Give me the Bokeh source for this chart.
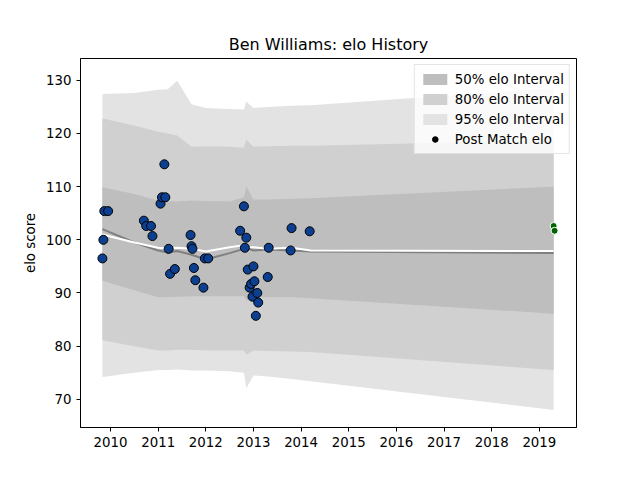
from bokeh.plotting import figure
from bokeh.models import Range1d, FixedTicker, Legend, LegendItem
from bokeh.embed import file_html
from bokeh.resources import INLINE

band_x = [2009.83, 2010.5, 2011.0, 2011.2, 2011.4, 2011.7, 2012.0, 2012.5, 2012.8, 2012.85, 2013.0, 2013.3, 2013.8, 2014.2, 2019.3]
u95 = [127.4, 127.6, 128.2, 128.3, 129.9, 125.5, 124.8, 124.6, 124.5, 126.0, 124.8, 125.0, 125.2, 125.3, 128.5]
u80 = [122.8, 121.5, 120.3, 120.0, 119.6, 117.5, 117.6, 117.5, 117.3, 118.8, 117.5, 117.6, 117.7, 117.7, 118.7]
u50 = [109.9, 108.6, 107.4, 107.3, 107.2, 107.4, 107.3, 107.2, 108.0, 110.0, 107.6, 107.6, 107.7, 107.8, 110.0]
l50 = [92.3, 90.5, 89.2, 89.2, 89.3, 89.4, 89.4, 89.4, 89.4, 88.6, 89.3, 89.2, 89.2, 89.0, 86.1]
l80 = [81.1, 80.0, 79.2, 79.2, 79.3, 79.3, 79.2, 79.2, 79.2, 78.4, 79.2, 79.1, 79.0, 78.9, 75.5]
l95 = [74.2, 75.0, 75.5, 75.5, 75.6, 75.4, 75.4, 75.3, 75.0, 72.1, 74.5, 74.3, 73.8, 73.4, 68.0]
median = [102.0, 99.5, 98.0, 97.6, 97.9, 97.2, 96.3, 97.5, 98.3, 98.5, 98.0, 98.2, 98.0, 97.8, 97.5]
mean = [101.0, 99.5, 98.5, 98.4, 98.5, 98.3, 97.8, 98.6, 99.0, 98.6, 98.6, 98.3, 98.5, 98.0, 97.9]

pt_year = [2009.83, 2009.85, 2009.87, 2009.95, 2010.7, 2010.75, 2010.85, 2010.88, 2011.05, 2011.08, 2011.15, 2011.13,
           2011.22, 2011.25, 2011.35, 2011.68, 2011.7, 2011.72, 2011.75, 2011.78, 2011.95, 2011.98, 2012.05,
           2012.72, 2012.8, 2012.82, 2012.85, 2012.88, 2012.92, 2012.95, 2012.98, 2013.0, 2013.02, 2013.05,
           2013.08, 2013.1, 2013.3, 2013.32, 2013.78, 2013.8, 2014.18]
pt_elo = [96.5, 100.0, 105.4, 105.4, 103.6, 102.6, 102.6, 100.7, 106.8, 108.0, 108.0, 114.2,
          98.3, 93.6, 94.5, 100.9, 98.8, 98.3, 94.7, 92.4, 91.0, 96.5, 96.5,
          101.7, 106.3, 98.5, 100.4, 94.4, 91.0, 91.7, 89.3, 95.0, 92.2, 85.7,
          90.0, 88.2, 93.0, 98.5, 98.0, 102.2, 101.6]
new_year = [2019.3, 2019.32]
new_elo = [102.6, 101.7]
years = list(range(2010, 2020))
elo_ticks = [70, 80, 90, 100, 110, 120, 130]

p = figure(width=624, height=464, output_backend="svg", toolbar_location=None,
           title="Ben Williams: elo History",
           x_range=Range1d(2009.37, 2019.78), y_range=Range1d(64.7, 134.1),
           min_border_left=80, min_border_right=48, min_border_top=58, min_border_bottom=37)
p.title.align = "center"
p.title.text_font = "DejaVu Sans"
p.title.text_font_size = "12pt"
p.title.text_font_style = "normal"
p.title.text_color = "black"
p.grid.visible = False
p.outline_line_color = "black"
p.background_fill_color = "white"

r95 = p.varea(x=band_x, y1=l95, y2=u95, fill_color="#e3e3e3")
r80 = p.varea(x=band_x, y1=l80, y2=u80, fill_color="#d0d0d0")
r50 = p.varea(x=band_x, y1=l50, y2=u50, fill_color="#bebebe")
p.line(band_x, median, line_color="#808080", line_width=2)
p.line(band_x, mean, line_color="white", line_width=2)
p.scatter(pt_year, pt_elo, size=9, fill_color="#0d3f91", line_color="black", line_width=1)
p.scatter(new_year, new_elo, size=7, fill_color="#006400", line_color="white", line_width=1)

dummy = p.scatter([2000], [0], size=12, fill_color="black", line_color="black")
legend = Legend(items=[LegendItem(label="50% elo Interval", renderers=[r50]),
                       LegendItem(label="80% elo Interval", renderers=[r80]),
                       LegendItem(label="95% elo Interval", renderers=[r95]),
                       LegendItem(label="Post Match elo", renderers=[dummy])],
                location="top_right", label_text_font="DejaVu Sans", label_text_font_size="10pt",
                label_text_color="black",
                border_line_color="#cccccc", background_fill_alpha=0.8, spacing=2, padding=5,
                glyph_height=14, glyph_width=30, label_height=18, margin=6)
p.add_layout(legend)

p.xaxis.ticker = FixedTicker(ticks=years)
p.yaxis.ticker = FixedTicker(ticks=elo_ticks)
p.yaxis.axis_label = "elo score"
for ax in (p.xaxis[0], p.yaxis[0]):
    ax.minor_tick_line_color = None
    ax.major_label_text_font = "DejaVu Sans"
    ax.major_label_text_font_size = "10pt"
    ax.major_label_text_color = "black"
    ax.major_tick_in = 0
    ax.major_tick_out = 4
    ax.axis_line_color = "black"
    ax.axis_label_text_color = "black"
    ax.axis_label_text_font = "DejaVu Sans"
    ax.axis_label_text_font_size = "10pt"
    ax.axis_label_text_font_style = "normal"

open("out.html", "w").write(file_html(p, INLINE))
